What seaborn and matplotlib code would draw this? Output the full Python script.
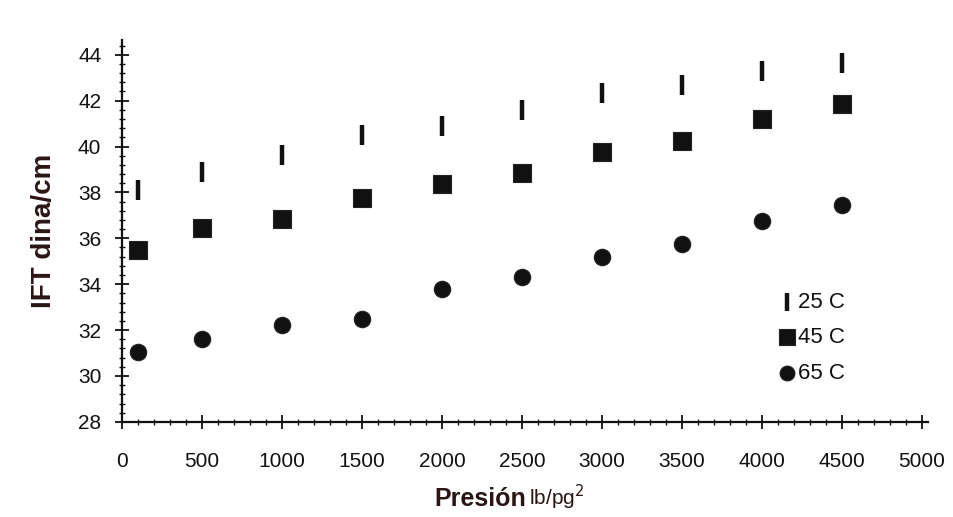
import pandas as pd
import matplotlib.pyplot as plt
import seaborn as sns
from matplotlib.ticker import MultipleLocator

# Data
presion = [100, 500, 1000, 1500, 2000, 2500, 3000, 3500, 4000, 4500]
ift_25 = [38.1, 38.9, 39.65, 40.5, 40.9, 41.6, 42.35, 42.7, 43.3, 43.65]
ift_45 = [35.5, 36.45, 36.85, 37.75, 38.35, 38.85, 39.75, 40.25, 41.2, 41.85]
ift_65 = [31.05, 31.6, 32.2, 32.5, 33.8, 34.3, 35.2, 35.75, 36.75, 37.45]
series = ["25 C", "45 C", "65 C"]

df = pd.DataFrame({
    "presion": presion * 3,
    "ift": ift_25 + ift_45 + ift_65,
    "serie": [s for s in series for _ in presion],
})

sns.set_style("white")
plt.rcParams["font.family"] = ["Liberation Sans", "DejaVu Sans"]

fig = plt.figure(figsize=(9.54, 5.17), dpi=100)
ax = fig.add_axes([0.128, 0.184, 0.845, 0.739])

styles = {
    "25 C": dict(marker="|", s=190, linewidths=3.2),
    "45 C": dict(marker="s", s=180, edgecolor="#222222", linewidth=0.8),
    "65 C": dict(marker="o", s=140, edgecolor="#222222", linewidth=0.8),
}
for s in series:
    sns.scatterplot(data=df[df["serie"] == s], x="presion", y="ift",
                    color="#111111", label=s, ax=ax, **styles[s])

ax.set_xlim(0, 5040)
ax.set_ylim(28, 44.65)
ax.xaxis.set_major_locator(MultipleLocator(500))
ax.xaxis.set_minor_locator(MultipleLocator(100))
ax.yaxis.set_major_locator(MultipleLocator(2))
ax.yaxis.set_minor_locator(MultipleLocator(0.4))

sns.despine(ax=ax)
for sp in ["left", "bottom"]:
    ax.spines[sp].set_color("#111111")
    ax.spines[sp].set_linewidth(1.6)

ax.tick_params(axis="both", which="major", direction="inout", length=10,
               width=1.3, color="#111111", labelsize=15, labelcolor="#111111",
               bottom=True, left=True)
ax.tick_params(axis="both", which="minor", direction="inout", length=5,
               width=1.0, color="#111111", bottom=True, left=True)
ax.tick_params(axis="x", which="major", pad=17)
ax.tick_params(axis="y", which="major", pad=10)

ax.set_xlabel("")
ax.set_ylabel("IFT dina/cm", fontsize=20, fontweight="bold", color="#2a1414",
              labelpad=15)
fig.text(0.551, 0.022, "Presión", fontsize=18, fontweight="bold",
         color="#2a1414", ha="right", va="baseline")
fig.text(0.555, 0.022, r"lb/pg$^{2}$", fontsize=15, color="#2a1414",
         ha="left", va="baseline")

leg = ax.legend(loc="upper left", bbox_to_anchor=(0.80, 0.37), frameon=False,
                fontsize=16, handletextpad=0.1, labelspacing=0.65,
                borderpad=0, handlelength=0.8, markerscale=0.9)
for t in leg.get_texts():
    t.set_color("#111111")

fig.savefig("out.png", dpi=100)
